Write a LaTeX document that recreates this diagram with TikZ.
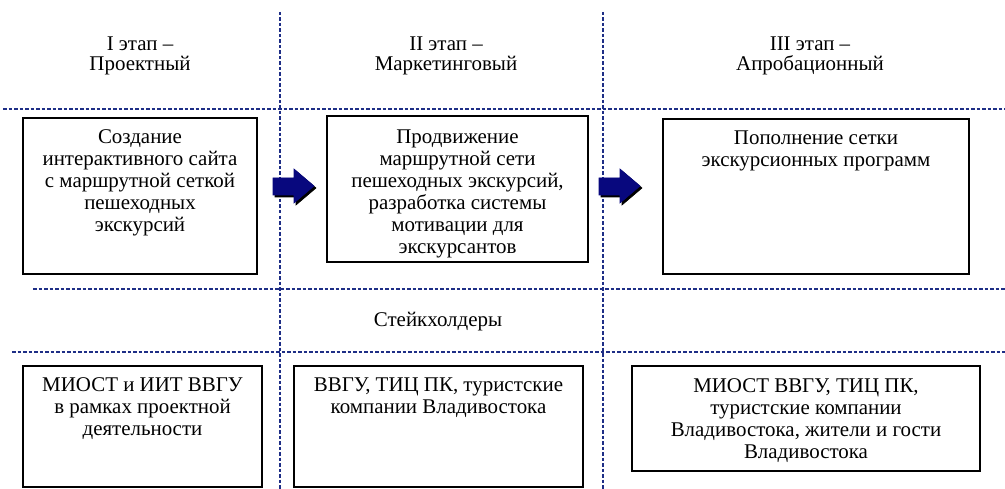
\documentclass[tikz,border=0pt]{standalone}
\usepackage{fontspec}
\setmainfont{Liberation Serif}
\definecolor{gridblue}{HTML}{1E2E86}
\definecolor{arrowblue}{HTML}{08087E}
\tikzset{
  grid/.style={draw=gridblue, line width=1.4bp, dash pattern=on 3.5bp off 2bp},
  box/.style={draw=black, line width=2.5bp, fill=white, inner sep=0pt},
  boxtext/.style={anchor=north, inner sep=0pt, align=center, font=\fontsize{21}{22}\selectfont},
  headtext/.style={anchor=center, inner sep=0pt, align=center, font=\fontsize{21}{20}\selectfont},
  blockarrow/.style={fill=arrowblue, draw=arrowblue, line width=0.6bp, line join=miter},
  arrowshadow/.style={fill=black, draw=black, line width=0.6bp}
}
\begin{document}
\begin{tikzpicture}[x=1bp, y=-1bp]
\useasboundingbox[fill=white] (0,0) rectangle (1005,489);
% grid lines
\coordinate (v1t) at (280,12); \coordinate (v1b) at (280,489);
\coordinate (v2t) at (603,12); \coordinate (v2b) at (603,489);
\coordinate (h1l) at (3,109);  \coordinate (h1r) at (1005,109);
\coordinate (h2l) at (33,289); \coordinate (h2r) at (1005,289);
\coordinate (h3l) at (12,352); \coordinate (h3r) at (1005,352);
\draw[grid] (h1l) -- (h1r);
\draw[grid] (h2l) -- (h2r);
\draw[grid] (h3l) -- (h3r);
\draw[grid] (v1t) -- (v1b);
\draw[grid] (v2t) -- (v2b);
% headers
\node[headtext] (hd1) at (140,56) {I этап –\\Проектный};
\node[headtext] (hd2) at (446,56) {II этап –\\Маркетинговый};
\node[headtext] (hd3) at (810,56) {III этап –\\Апробационный};
% top boxes
\node[box, minimum width=234bp, minimum height=156bp] (b1) at (140,196) {};
\node[box, minimum width=261bp, minimum height=146bp] (b2) at (457.5,189) {};
\node[box, minimum width=306bp, minimum height=155bp] (b3) at (816,196.5) {};
\node[boxtext] (t1) at (140,128) {\strut Создание\\интерактивного сайта\\с маршрутной сеткой\\пешеходных\\экскурсий};
\node[boxtext] (t2) at (457.5,128) {\strut Продвижение\\маршрутной сети\\пешеходных экскурсий,\\разработка системы\\мотивации для\\экскурсантов};
\node[boxtext] (t3) at (816,129) {\strut Пополнение сетки\\экскурсионных программ};
% arrows
\foreach \xx/\nm in {273/a1, 599/a2}{
  \draw[arrowshadow, xshift=2bp, yshift=-2bp] (\xx,178) -- (\xx+21,178) -- (\xx+21,169) -- (\xx+41,186) -- (\xx+21,203) -- (\xx+21,195) -- (\xx,195) -- cycle;
  \draw[blockarrow] (\xx,178) -- (\xx+21,178) -- (\xx+21,169) -- (\xx+41,186) -- (\xx+21,203) -- (\xx+21,195) -- (\xx,195) -- cycle;
}
% stakeholders label
\node[inner sep=0pt, font=\fontsize{21}{22}\selectfont] (st) at (438,322) {Стейкхолдеры};
% bottom boxes
\node[box, minimum width=239bp, minimum height=121bp] (s1) at (142.5,426.5) {};
\node[box, minimum width=289bp, minimum height=121bp] (s2) at (438.5,426.5) {};
\node[box, minimum width=348bp, minimum height=105bp] (s3) at (806,418.5) {};
\node[boxtext] (u1) at (142.5,376) {\strut МИОСТ и ИИТ ВВГУ\\в рамках проектной\\деятельности};
\node[boxtext] (u2) at (438.5,376) {\strut ВВГУ, ТИЦ ПК, туристские\\компании Владивостока};
\node[boxtext] (u3) at (806,377) {\strut МИОСТ ВВГУ, ТИЦ ПК,\\туристские компании\\Владивостока, жители и гости\\Владивостока};
\end{tikzpicture}
\end{document}
